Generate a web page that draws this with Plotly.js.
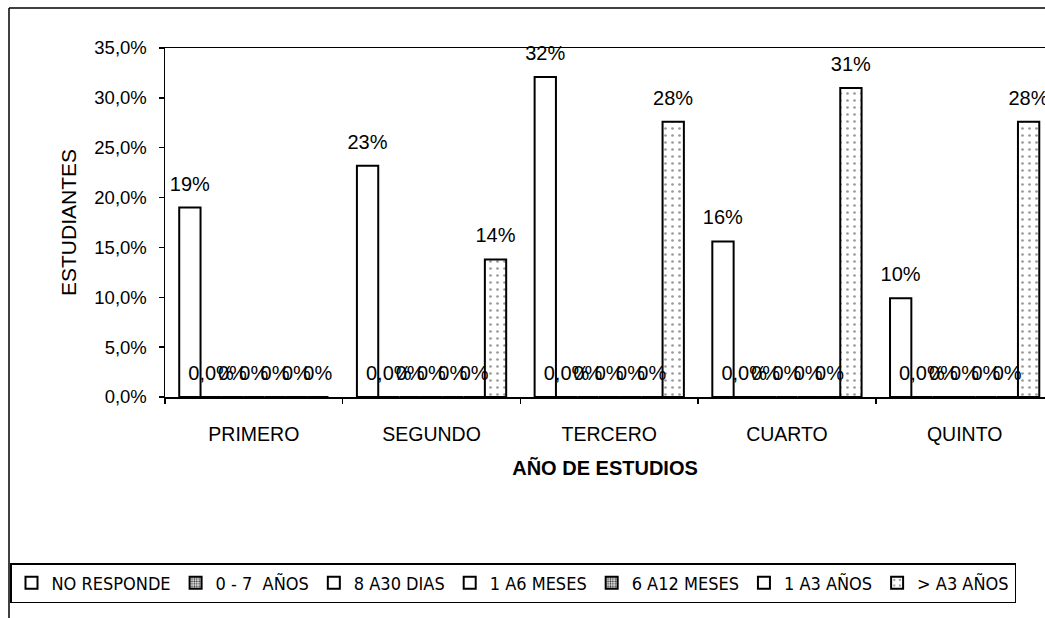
<!DOCTYPE html>
<html>
<head>
<meta charset="utf-8">
<script src="https://cdn.plot.ly/plotly-3.0.1.min.js"></script>
<style>html,body{margin:0;padding:0;background:#fff;}#chart{width:1045px;height:618px;}</style>
</head>
<body>
<div id="chart"></div>
<script>
// ---- data ----
const categories = ['PRIMERO', 'SEGUNDO', 'TERCERO', 'CUARTO', 'QUINTO'];
const seriesNames = ['NO RESPONDE', '0 - 7  AÑOS', '8 A30 DIAS', '1 A6 MESES', '6 A12 MESES', '1 A3 AÑOS', '> A3 AÑOS'];
const noResponde = [19.0, 23.2, 32.1, 15.6, 9.9];
const cero7Anos   = [0, 0, 0, 0, 0];
const dias8a30    = [0, 0, 0, 0, 0];
const meses1a6    = [0, 0, 0, 0, 0];
const meses6a12   = [0, 0, 0, 0, 0];
const anos1a3     = [0, 0, 0, 0, 0];
const masDe3Anos  = [0, 13.8, 27.6, 31.0, 27.6];
const seriesValues = [noResponde, cero7Anos, dias8a30, meses1a6, meses6a12, anos1a3, masDe3Anos];
const yTicks = [0, 5, 10, 15, 20, 25, 30, 35];
const yTickText = yTicks.map(v => v.toFixed(1).replace('.', ',') + '%');

// ---- styles ----
const FONT = '"Liberation Sans", Arial, sans-serif';
const NARROW = '"Liberation Sans Narrow", "Arial Narrow", "DejaVu Sans Condensed", sans-serif';
const patterns = [
  null,
  {shape: '.', fgcolor: '#333', bgcolor: '#fff', size: 3, solidity: 0.45},
  null,
  null,
  {shape: '.', fgcolor: '#333', bgcolor: '#fff', size: 3, solidity: 0.45},
  null,
  {shape: '.', fgcolor: '#999', bgcolor: '#fff', size: 7, solidity: 0.12}
];
const LABEL_PAD = 1.0; // data units of space between bar top and its label

function labelText(v, i) {
  if (v === 0) return i === 1 ? '0,0%' : '0%';
  return Math.round(v) + '%';
}

const traces = [];
seriesValues.forEach((vals, i) => {
  const m = {color: '#fff', line: {color: '#000', width: 2}};
  if (patterns[i]) m.pattern = patterns[i];
  traces.push({
    type: 'bar', name: seriesNames[i], x: categories, y: vals,
    offsetgroup: String(i), marker: m, hoverinfo: 'x+y+name'
  });
});
seriesValues.forEach((vals, i) => {
  traces.push({
    type: 'bar', x: categories, y: vals.map(() => LABEL_PAD), base: vals,
    offsetgroup: String(i), showlegend: false, hoverinfo: 'skip',
    marker: {color: 'rgba(0,0,0,0)', line: {width: 0}},
    text: vals.map(v => labelText(v, i)), textposition: 'outside',
    textfont: {family: FONT, size: 20, color: '#000'},
    constraintext: 'none', cliponaxis: false
  });
});

const W = 1045, H = 618, L = 165, T = 48, B = 221;
const plotW = W - L, plotH = H - T - B;
const catPx = 177.7;
const px2x = p => (p - L) / plotW;
const px2y = p => (H - B - p) / plotH;

const layout = {
  width: W, height: H,
  margin: {l: L, r: 0, t: T, b: B},
  paper_bgcolor: '#fff', plot_bgcolor: '#fff',
  barmode: 'group', bargap: 0.16, bargroupgap: 0,
  separators: ',.',
  font: {family: FONT, color: '#000'},
  showlegend: true,
  xaxis: {
    type: 'category', range: [-0.5, -0.5 + plotW / catPx],
    tickson: 'boundaries', ticks: 'outside', ticklen: 5, tickwidth: 1.5, tickcolor: '#000',
    showline: true, linecolor: '#000', linewidth: 1.5, mirror: true,
    showgrid: false, zeroline: false, fixedrange: true,
    tickfont: {family: FONT, size: 19.5, color: '#000'},
    ticklabelstandoff: 19,
    title: {text: 'AÑO DE ESTUDIOS', font: {family: FONT, size: 20, weight: 'bold', color: '#000'}, standoff: 17}
  },
  yaxis: {
    range: [0, 35], tickmode: 'array', tickvals: yTicks, ticktext: yTickText,
    ticks: 'outside', ticklen: 5, tickwidth: 1.5, tickcolor: '#000',
    showline: true, linecolor: '#000', linewidth: 1.5,
    showgrid: false, zeroline: false, fixedrange: true,
    tickfont: {family: FONT, size: 18.5, color: '#000'},
    ticklabelstandoff: 8,
    title: {text: 'ESTUDIANTES', font: {family: FONT, size: 21, color: '#000'}, standoff: 12}
  },
  legend: {
    orientation: 'h', x: px2x(10), xanchor: 'left', y: px2y(563), yanchor: 'top',
    bordercolor: '#000', borderwidth: 1.5, bgcolor: '#fff',
    font: {family: NARROW, size: 18, color: '#000'},
    itemwidth: 30, tracegroupgap: 0
  },
  shapes: [
    {type: 'line', xref: 'paper', yref: 'paper', x0: px2x(9), x1: px2x(9), y0: px2y(618), y1: px2y(8), line: {color: '#000', width: 1.5}},
    {type: 'line', xref: 'paper', yref: 'paper', x0: px2x(9), x1: 1, y0: px2y(8), y1: px2y(8), line: {color: '#000', width: 1.5}}
  ]
};

Plotly.newPlot('chart', traces, layout, {displayModeBar: false, staticPlot: true});
</script>
</body>
</html>
